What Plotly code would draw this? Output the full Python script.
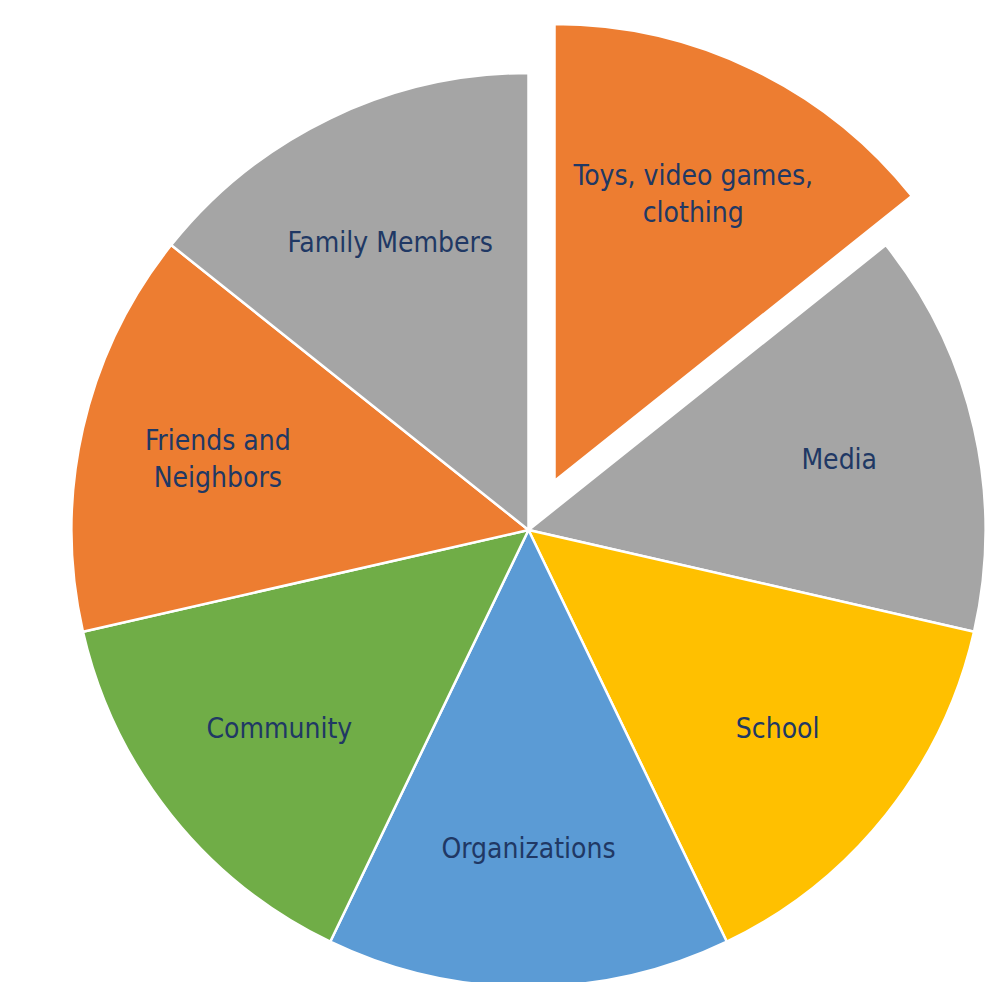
import plotly.graph_objects as go

labels = ["Toys, video games,<br>clothing", "Media", "School", "Organizations",
          "Community", "Friends and<br>Neighbors", "Family Members"]
values = [1, 1, 1, 1, 1, 1, 1]
colors = ["#ED7D31", "#A5A5A5", "#FFC000", "#5B9BD5", "#70AD47", "#ED7D31", "#A5A5A5"]
pulled = [True, False, False, False, False, False, False]

W, H = 1004, 982
TEXT_COLOR = "#203864"
FONT = "DejaVu Sans Condensed, DejaVu Sans, sans-serif"

clear = "rgba(0,0,0,0)"

# main pie (all slices except the pulled one)
main_colors = [clear if p else c for c, p in zip(colors, pulled)]
main_text = ["" if p else l for l, p in zip(labels, pulled)]
main_lw = [0 if p else 2.5 for p in pulled]

# pulled pie (only the pulled slice, drawn with a shifted centre)
pull_colors = [c if p else clear for c, p in zip(colors, pulled)]
pull_text = [l if p else "" for l, p in zip(labels, pulled)]
pull_lw = [2.5 if p else 0 for p in pulled]

fig = go.Figure()
fig.add_trace(go.Pie(
    values=values, labels=labels, text=main_text, textinfo="text",
    sort=False, direction="clockwise", rotation=0,
    marker=dict(colors=main_colors, line=dict(color=["white"] * 7, width=main_lw)),
    textposition="inside", insidetextorientation="horizontal",
    insidetextfont=dict(family=FONT, size=28, color=TEXT_COLOR),
    domain=dict(x=[0.06325, 0.97361], y=[0.003055, 0.93381]),
    showlegend=False, hoverinfo="label",
))
fig.add_trace(go.Pie(
    values=values, labels=labels, text=pull_text, textinfo="text",
    sort=False, direction="clockwise", rotation=0,
    marker=dict(colors=pull_colors, line=dict(color=["white"] * 7, width=pull_lw)),
    textposition="inside", insidetextorientation="horizontal",
    insidetextfont=dict(family=FONT, size=28, color=TEXT_COLOR),
    domain=dict(x=[0.08914, 0.99950], y=[0.05295, 0.98371]),
    showlegend=False, hoverinfo="label",
))

fig.update_layout(
    width=W, height=H,
    margin=dict(l=0, r=0, t=0, b=0),
    paper_bgcolor="white", plot_bgcolor="white",
)

fig.write_html("out.html")
